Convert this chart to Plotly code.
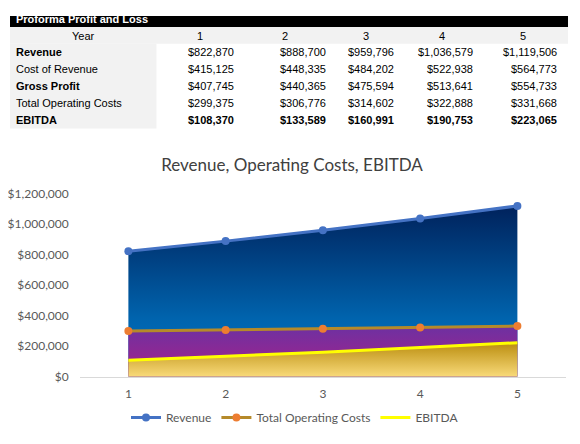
"""Proforma P&L table with revenue / operating costs / EBITDA area chart."""

import plotly.graph_objects as go

years = [1, 2, 3, 4, 5]
revenue = [822870, 888700, 959796, 1036579, 1119506]
cost_of_revenue = [415125, 448335, 484202, 522938, 564773]
gross_profit = [407745, 440365, 475594, 513641, 554733]
total_operating_costs = [299375, 306776, 314602, 322888, 331668]
ebitda = [108370, 133589, 160991, 190753, 223065]
y_ticks = [0, 200000, 400000, 600000, 800000, 1000000, 1200000]

row_labels = ["Revenue", "Cost of Revenue", "Gross Profit", "Total Operating Costs", "EBITDA"]
bold_labels = {"Revenue", "Gross Profit", "EBITDA"}
bold_values = {"EBITDA"}

# the page body has an 8px margin on every side; keep the figure inside the window
OFF = 8
W, H = 580 - 2 * OFF, 444 - 2 * OFF - 4
# measured: rendered row = 0.968 * requested row + 7.3, so undo that
Y_SCALE, Y_SHIFT = 0.968, 7.3
TABLE_FONT = "Liberation Sans, Arial, sans-serif"
CHART_FONT = "Lato, Calibri, sans-serif"

# table grid (target pixels)
TABLE_LEFT, TABLE_RIGHT = 8, 568
LABEL_RIGHT = 155
COL_CENTERS = [199, 284, 365, 442, 523]
COL_RIGHTS = [235, 327, 395, 475, 559]
ROW_H = 17
TITLE_ROW = (7, 26)
YEAR_ROW = (26, 43)


def px_x(x):
    return min(max((x - OFF) / W, 0), 1)


def px_y(y):
    # target pixel row from the top -> paper fraction from the bottom
    req = (y - Y_SHIFT) / Y_SCALE
    return min(max((H - (req - OFF)) / H, 0), 1)


def money(v):
    return f"${v:,}"


def rect(x0, x1, y0, y1, color):
    return dict(type="rect", xref="paper", yref="paper",
                x0=px_x(x0), x1=px_x(x1), y0=px_y(y1), y1=px_y(y0),
                fillcolor=color, line=dict(width=0), layer="below")


def cell_text(text, x, y, anchor, bold=False, color="black"):
    return dict(text=f"<b>{text}</b>" if bold else text,
                xref="paper", yref="paper", x=px_x(x), y=px_y(y),
                xanchor=anchor, yanchor="middle", showarrow=False,
                font=dict(family=TABLE_FONT, size=11, color=color))


series = [revenue, cost_of_revenue, gross_profit, total_operating_costs, ebitda]
body_top = YEAR_ROW[1]
body_bottom = body_top + ROW_H * len(row_labels)

shapes = [
    rect(TABLE_LEFT, TABLE_RIGHT, *TITLE_ROW, "black"),
    rect(TABLE_LEFT, TABLE_RIGHT, *YEAR_ROW, "#f2f2f2"),
    rect(TABLE_LEFT, LABEL_RIGHT, body_top, body_bottom, "#f2f2f2"),
]

annotations = [
    cell_text("Proforma Profit and Loss", TABLE_LEFT + 4, 18, "left",
              bold=True, color="white"),
    cell_text("Year", (TABLE_LEFT + LABEL_RIGHT) / 2, 35, "center"),
]
for yr, cx in zip(years, COL_CENTERS):
    annotations.append(cell_text(str(yr), cx, 35, "center"))
for r, (name, s) in enumerate(zip(row_labels, series)):
    cy = body_top + ROW_H * r + ROW_H / 2
    annotations.append(cell_text(name, TABLE_LEFT + 4, cy, "left", bold=name in bold_labels))
    for v, rx in zip(s, COL_RIGHTS):
        annotations.append(cell_text(money(v), rx, cy, "right", bold=name in bold_values))

fig = go.Figure()

# gradient areas (drawn first, no legend)
fig.add_trace(go.Scatter(
    x=years, y=revenue, mode="none", fill="tozeroy", showlegend=False, hoverinfo="skip",
    fillgradient=dict(type="vertical", start=0, stop=max(revenue),
                      colorscale=[[0, "#0074c6"], [0.35, "#0064ae"], [1, "#00225c"]]),
))
fig.add_trace(go.Scatter(
    x=years, y=total_operating_costs, mode="none", fill="tozeroy", showlegend=False,
    hoverinfo="skip",
    fillgradient=dict(type="vertical", start=0, stop=max(total_operating_costs),
                      colorscale=[[0, "#b81c80"], [0.5, "#8e2894"], [1, "#7030a0"]]),
))
fig.add_trace(go.Scatter(
    x=years, y=ebitda, mode="none", fill="tozeroy", showlegend=False, hoverinfo="skip",
    fillgradient=dict(type="vertical", start=0, stop=max(ebitda),
                      colorscale=[[0, "#ffe285"], [1, "#c09418"]]),
))

# lines on top
fig.add_trace(go.Scatter(
    x=years, y=revenue, name="Revenue", mode="lines+markers",
    line=dict(color="#4472c4", width=3), marker=dict(color="#4472c4", size=8),
))
fig.add_trace(go.Scatter(
    x=years, y=total_operating_costs, name="Total Operating Costs", mode="lines+markers",
    line=dict(color="#b58a2a", width=3), marker=dict(color="#ed7d31", size=8),
))
fig.add_trace(go.Scatter(
    x=years, y=ebitda, name="EBITDA", mode="lines",
    line=dict(color="#ffff00", width=3),
))

fig.update_layout(
    width=W,
    height=H,
    margin=dict(l=0, r=0, t=0, b=0),
    paper_bgcolor="white",
    plot_bgcolor="white",
    font=dict(family=CHART_FONT, size=12, color="#595959"),
    shapes=shapes,
    annotations=annotations,
    title=dict(
        text="Revenue, Operating Costs, EBITDA",
        x=px_x(292), xanchor="center", y=px_y(167), yanchor="middle",
        font=dict(family=CHART_FONT, size=17, color="#404040"),
    ),
    xaxis=dict(
        domain=[px_x(78), px_x(566)],
        range=[0.5, 5.5],
        tickvals=years,
        showgrid=False, zeroline=False,
        showline=True, linecolor="#d9d9d9", linewidth=1,
        ticks="", ticklabelstandoff=6,
        tickfont=dict(family=CHART_FONT, size=12, color="#595959"),
        fixedrange=True,
    ),
    yaxis=dict(
        domain=[px_y(377), px_y(193.3)],
        range=[0, 1200000],
        tickvals=y_ticks,
        ticktext=[money(v) for v in y_ticks],
        showgrid=False, zeroline=False, showline=False,
        ticks="", ticklabelstandoff=10,
        tickfont=dict(family=CHART_FONT, size=12, color="#595959"),
        fixedrange=True,
    ),
    legend=dict(
        orientation="h", x=px_x(294), xanchor="center", y=px_y(418), yanchor="middle",
        font=dict(family=CHART_FONT, size=12, color="#595959"),
        bgcolor="rgba(0,0,0,0)",
    ),
)

fig.write_html("out.html")
